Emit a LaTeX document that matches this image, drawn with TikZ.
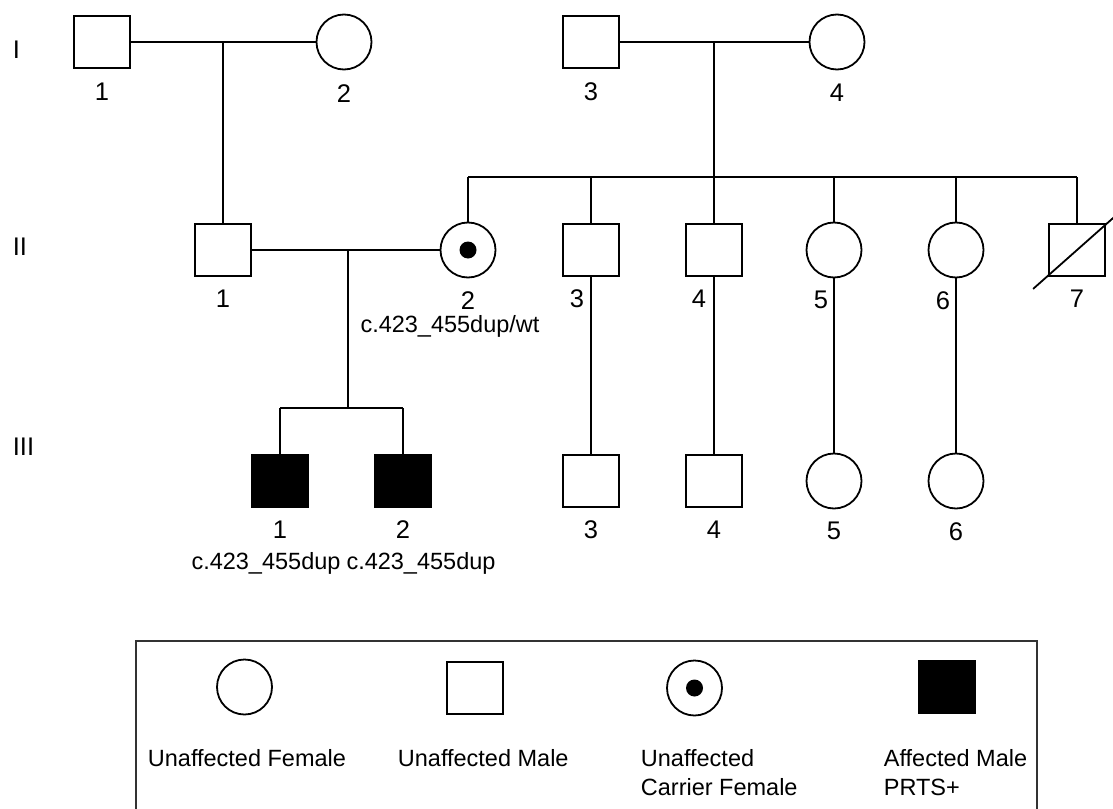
\documentclass[tikz,border=0pt]{standalone}
\usepackage{fontspec}
\setmainfont{Liberation Sans}
\usetikzlibrary{positioning,calc}
\newcommand*{\PedFont}{\fontsize{23.5}{29}\selectfont}
\newcommand*{\NumFont}{\fontsize{25.5}{30}\selectfont}

\begin{document}
\begin{tikzpicture}[x=1pt,y=-1pt,line width=1.8pt,
  male/.style={draw,rectangle,minimum width=56pt,minimum height=52pt,inner sep=0pt},
  female/.style={draw,circle,minimum size=55pt,inner sep=0pt},
  affected/.style={male,fill=black},
  carrier/.style={female,path picture={\fill[black] (path picture bounding box.center) circle[radius=8.5pt];}},
  num/.style={font=\NumFont,inner sep=0pt},
  geno/.style={font=\PedFont,inner sep=0pt},
  gen/.style={font=\NumFont,inner sep=0pt,anchor=west},
  legtext/.style={font=\PedFont,inner sep=0pt,anchor=north west,align=left}]
\useasboundingbox (0,0) rectangle (1113,808);
\node[gen] (gI) at (12,50) {I};
\node[gen] (gII) at (12,247) {II};
\node[gen] (gIII) at (12,447) {III};
\node[male] (I1) at (102,42) {};
\node[female] (I2) at (344,42) {};
\node[male] (I3) at (591,42) {};
\node[female] (I4) at (837,42) {};
\node[male] (II1) at (223,250) {};
\node[carrier] (II2) at (468,250) {};
\node[male] (II3) at (591,250) {};
\node[male] (II4) at (714,250) {};
\node[female] (II5) at (834,250) {};
\node[female] (II6) at (956,250) {};
\node[male] (II7) at (1077,250) {};
\node[affected] (III1) at (280,481) {};
\node[affected] (III2) at (403,481) {};
\node[male] (III3) at (591,481) {};
\node[male] (III4) at (714,481) {};
\node[female] (III5) at (834,481) {};
\node[female] (III6) at (956,481) {};
\node[num,below=13pt of I1] (I1n) {1};
\node[num,below=13pt of I2] (I2n) {2};
\node[num,below=13pt of I3] (I3n) {3};
\node[num,below=13pt of I4] (I4n) {4};
\node[num,below=12pt of II1] (II1n) {1};
\node[num,below=12pt of II2] (II2n) {2};
\node[num,below=12pt of II3,xshift=-14pt] (II3n) {3};
\node[num,below=12pt of II4,xshift=-15pt] (II4n) {4};
\node[num,below=12pt of II5,xshift=-13pt] (II5n) {5};
\node[num,below=12pt of II6,xshift=-13pt] (II6n) {6};
\node[num,below=12pt of II7] (II7n) {7};
\node[num,below=12pt of III1] (III1n) {1};
\node[num,below=12pt of III2] (III2n) {2};
\node[num,below=12pt of III3] (III3n) {3};
\node[num,below=12pt of III4] (III4n) {4};
\node[num,below=12pt of III5] (III5n) {5};
\node[num,below=12pt of III6] (III6n) {6};
\node[geno] (II2g) at (450,326) {c.423\_455dup/wt};
\node[geno] (III1g) at (266,563) {c.423\_455dup};
\node[geno] (III2g) at (421,563) {c.423\_455dup};
\coordinate (m1) at ($(I1)!.5!(I2)$);
\coordinate (m2) at ($(I3)!.5!(I4)$);
\coordinate (sib2) at (714,177);
\coordinate (m3) at (348,250);
\coordinate (sib3) at (348,408);
\draw (I1) -- (I2);
\draw (m1) -- (II1);
\draw (I3) -- (I4);
\draw (m2) -- (sib2);
\draw (II2 |- sib2) -- (II7 |- sib2);
\foreach \c in {II2,II3,II4,II5,II6,II7}
  \draw (\c |- sib2) -- (\c);
\draw (II1) -- (II2);
\draw (m3) -- (sib3);
\draw (III1 |- sib3) -- (III2 |- sib3);
\draw (III1 |- sib3) -- (III1);
\draw (III2 |- sib3) -- (III2);
\foreach \i in {3,...,6}
  \draw (II\i) -- (III\i);
\draw ([shift={(-15,12)}]II7.south west) -- ([shift={(15,-12)}]II7.north east);
\draw[black!80] (136,641) rectangle (1037,814);
\node[female] (Lf) at (244.5,687) {};
\node[male] (Lm) at (475,688) {};
\node[carrier] (Lc) at (694.5,688) {};
\node[affected] (La) at (947,687) {};
\node[legtext] (Lft) at (147,749) {Unaffected Female};
\node[legtext] (Lmt) at (397,749) {Unaffected Male};
\node[legtext] (Lct) at (640,749) {Unaffected\\Carrier Female};
\node[legtext] (Lat) at (883,749) {Affected Male\\PRTS+};
\end{tikzpicture}
\end{document}
